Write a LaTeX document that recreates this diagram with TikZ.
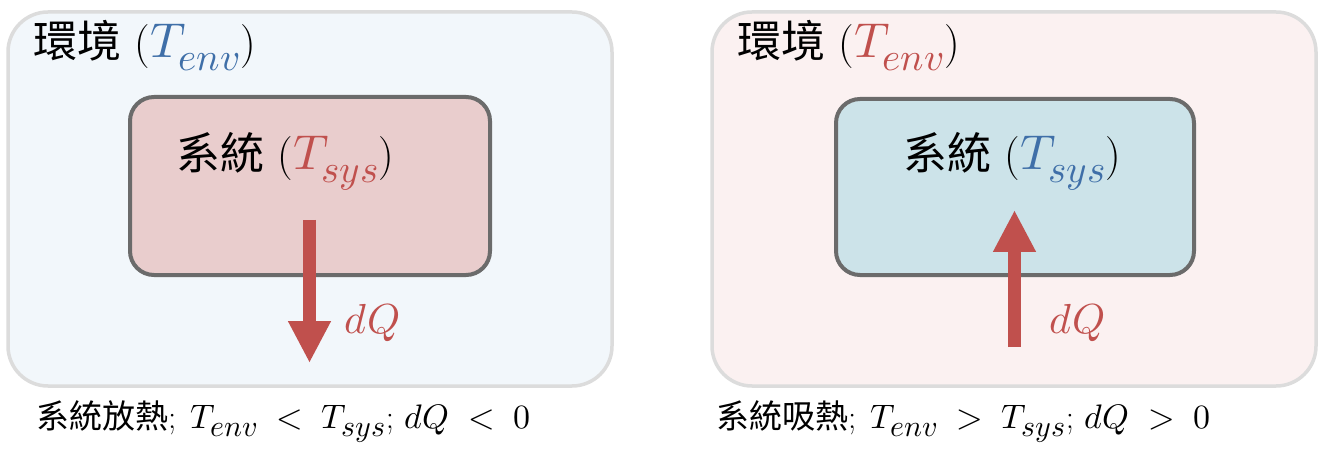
\documentclass[tikz,border=0pt]{standalone}
\usepackage{fontspec}
\usepackage{unicode-math}
\setmathfont{Latin Modern Math}
\newfontfamily\cjk{Noto Sans CJK TC}
\usetikzlibrary{arrows.meta}
\DeclareMathSizes{49}{49}{39}{31}
\DeclareMathSizes{34}{34}{30}{24}
\DeclareMathSizes{42}{42}{34}{28}
\newcommand\bigmath[1]{{\fontsize{49}{56}\selectfont$#1$}}
\newcommand\capmath[1]{{\fontsize{34}{40}\selectfont\thickmuskip=10mu plus 2mu$#1$}}
\definecolor{envblue}{HTML}{F2F7FB}
\definecolor{envred}{HTML}{FBF1F1}
\definecolor{envline}{HTML}{DCDCDC}
\definecolor{sysred}{HTML}{E9CDCD}
\definecolor{sysblue}{HTML}{CCE3E9}
\definecolor{sysline}{HTML}{6B6B6B}
\definecolor{txtred}{HTML}{C0504D}
\definecolor{txtblue}{HTML}{3F6FA8}
\tikzset{
  envbox/.style={draw=envline, line width=3.5pt, rounded corners=40pt, minimum width=604pt, minimum height=374pt, inner sep=0pt},
  sysbox/.style={draw=sysline, line width=4pt, rounded corners=24pt, inner sep=0pt},
  heat/.style={draw=txtred, line width=13pt, -{Triangle[width=40pt,length=42pt]}},
  lbl/.style={anchor=base west, inner sep=0pt, font=\fontsize{44}{50}\selectfont},
  captxt/.style={anchor=base west, inner sep=0pt, font=\fontsize{33}{38}\selectfont},
  dq/.style={anchor=base west, inner sep=0pt, text=txtred, font=\fontsize{42}{48}\selectfont}
}
\begin{document}
\begin{tikzpicture}[x=1pt,y=-1pt]
\useasboundingbox (0,0) rectangle (1320,449);
\fill[white] (0,0) rectangle (1320,449);
% left panel
\node[envbox, fill=envblue] (envL) at (310,199) {};
\node[sysbox, fill=sysred, minimum width=360pt, minimum height=178pt] (sysL) at (310,186) {};
\node[lbl] (envLtxt) at (33,58) {{\cjk 環境} (\textcolor{txtblue}{\bigmath{T_{env}}})};
\node[lbl] (sysLtxt) at (176,170) {{\cjk 系統} (\textcolor{txtred}{\bigmath{T_{sys}}})};
\coordinate (aL1) at (309.5,220);
\coordinate (aL2) at (309.5,363);
\draw[heat] (aL1) -- (aL2);
\node[dq] (dqL) at (344,333) {$dQ$};
\node[captxt] (capL) at (36,428) {{\cjk 系統放熱};\hspace{4pt} \capmath{T_{env} < T_{sys}}; \capmath{dQ < 0}};
% right panel
\node[envbox, fill=envred] (envR) at (1014,199) {};
\node[sysbox, fill=sysblue, minimum width=358pt, minimum height=176pt] (sysR) at (1015,187) {};
\node[lbl] (envRtxt) at (737,58) {{\cjk 環境} (\textcolor{txtred}{\bigmath{T_{env}}})};
\node[lbl] (sysRtxt) at (903,170) {{\cjk 系統} (\textcolor{txtblue}{\bigmath{T_{sys}}})};
\coordinate (aR1) at (1014.5,347);
\coordinate (aR2) at (1014.5,210);
\draw[heat] (aR1) -- (aR2);
\node[dq] (dqR) at (1049,333) {$dQ$};
\node[captxt] (capR) at (716,428) {{\cjk 系統吸熱};\hspace{4pt} \capmath{T_{env} > T_{sys}}; \capmath{dQ > 0}};
\end{tikzpicture}
\end{document}
